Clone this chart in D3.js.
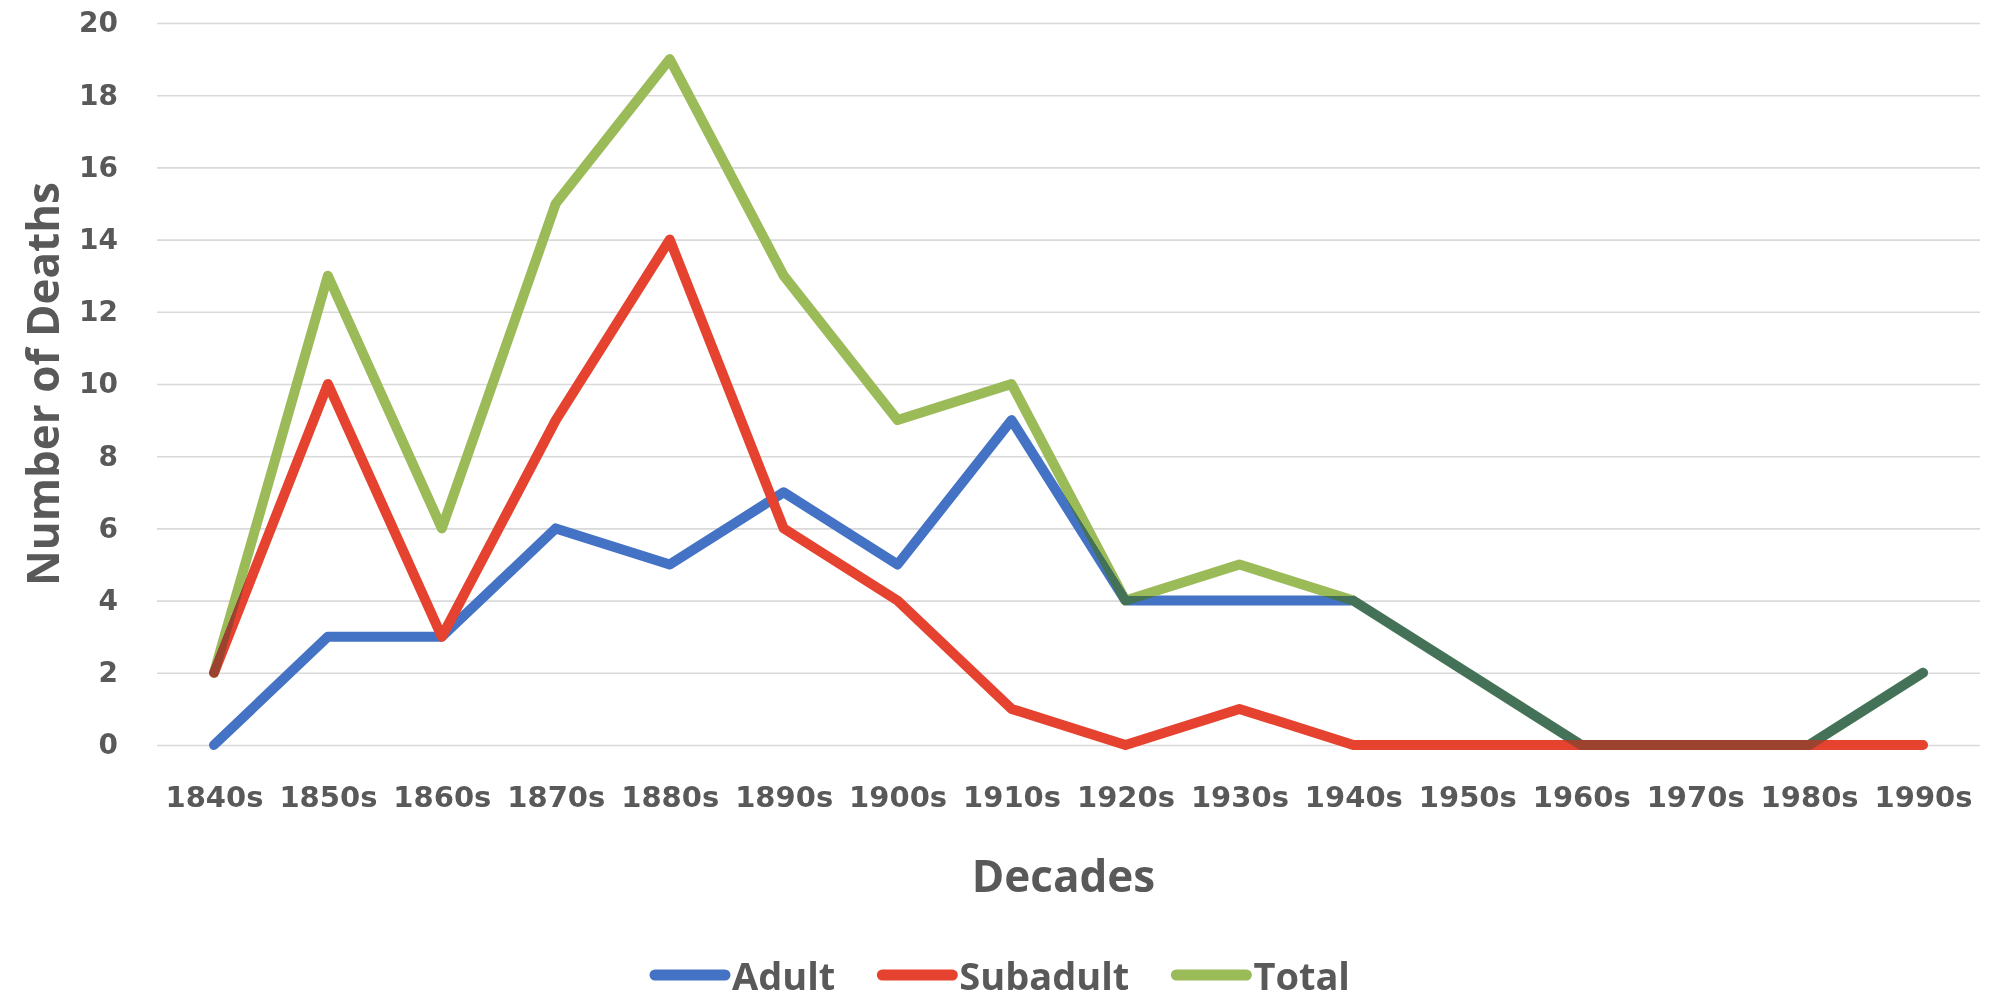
<!DOCTYPE html>
<html>
<head>
<meta charset="utf-8">
<script src="https://cdn.jsdelivr.net/npm/d3@7"></script>
<style>
  body { margin: 0; background: #ffffff; }
  svg text { font-family: "Open Sans", "Liberation Sans", sans-serif; font-weight: 700; fill: #595959; }
  svg .tick text { font-family: "DejaVu Sans", "Open Sans", sans-serif; }
</style>
</head>
<body>
<div id="chart"></div>
<script>

// chart values
var decades = ["1840s","1850s","1860s","1870s","1880s","1890s","1900s","1910s",
               "1920s","1930s","1940s","1950s","1960s","1970s","1980s","1990s"]
var adult    = [0, 3, 3, 6, 5, 7, 5, 9, 4, 4, 4, 2, 0, 0, 0, 2]
var subadult = [2, 10, 3, 9, 14, 6, 4, 1, 0, 1, 0, 0, 0, 0, 0, 0]
var total    = [2, 13, 6, 15, 19, 13, 9, 10, 4, 5, 4, 2, 0, 0, 0, 2]
var yTicks   = [0, 2, 4, 6, 8, 10, 12, 14, 16, 18, 20]
var seriesNames = ["Adult", "Subadult", "Total"]

var W = 1990, H = 1000
// plot area (window.top is reserved, so no "top" here)
var plotL = 157, plotR = 1980, plotT = 23, plotB = 745

var svg = d3.select("#chart").append("svg")
  .attr("width", W)
  .attr("height", H)

var x = d3.scalePoint()
  .domain(decades)
  .range([plotL, plotR])
  .padding(0.5)

var y = d3.scaleLinear()
  .domain([0, 20])
  .range([plotB, plotT])

//gridlines + y labels
var yAxis = svg.append("g")
  .attr("transform", "translate(" + plotL + ",0)")
  .call(d3.axisLeft(y).tickValues(yTicks).tickSize(-(plotR - plotL)).tickPadding(39))

yAxis.select(".domain").remove()
yAxis.selectAll(".tick line")
  .attr("stroke", "#d9d9d9")
  .attr("stroke-width", 1.6)
yAxis.selectAll(".tick text")
  .attr("font-size", 28)
  .attr("fill", "#595959")

//x labels
var xAxis = svg.append("g")
  .attr("transform", "translate(0," + plotB + ")")
  .call(d3.axisBottom(x).tickSize(0).tickPadding(41))

xAxis.select(".domain").remove()
xAxis.selectAll(".tick text")
  .attr("font-size", 29)
  .attr("fill", "#595959")
  .attr("dy", "0.71em")

// axis titles
svg.append("text")
  .attr("transform", "translate(42," + ((plotT + plotB) / 2) + ") rotate(-90)")
  .attr("text-anchor", "middle")
  .attr("dominant-baseline", "central")
  .attr("font-size", 44)
  .text("Number of Deaths")

svg.append("text")
  .attr("x", (plotL + plotR) / 2 - 5)
  .attr("y", 892)
  .attr("text-anchor", "middle")
  .attr("font-size", 44)
  .text("Decades")

// lines
var colors = ["#4472c4", "#e5432f", "#9bbb59"]
var blend = ["normal", "normal", "darken"]
var allSeries = [adult, subadult, total]

var line = d3.line()
  .x(function(d, i) { return x(decades[i]) })
  .y(function(d) { return y(d) })

svg.selectAll(".series")
  .data(allSeries)
  .enter()
  .append("path")
  .attr("class", "series")
  .attr("d", line)
  .attr("fill", "none")
  .attr("stroke", function(d, i) { return colors[i] })
  .attr("stroke-width", 10)
  .attr("stroke-linejoin", "round")
  .attr("stroke-linecap", "round")
  .style("mix-blend-mode", function(d, i) { return blend[i] })

// legend
var legend = svg.append("g")
var lx = 650
var ly = 975
seriesNames.forEach(function(name, i) {
  legend.append("line")
    .attr("x1", lx + 5)
    .attr("x2", lx + 75)
    .attr("y1", ly)
    .attr("y2", ly)
    .attr("stroke", colors[i])
    .attr("stroke-width", 11)
    .attr("stroke-linecap", "round")
  var t = legend.append("text")
    .attr("x", lx + 82)
    .attr("y", ly)
    .attr("dominant-baseline", "central")
    .attr("font-size", 38)
    .text(name)
  lx = lx + 82 + t.node().getComputedTextLength() + 42
})

</script>
</body>
</html>
